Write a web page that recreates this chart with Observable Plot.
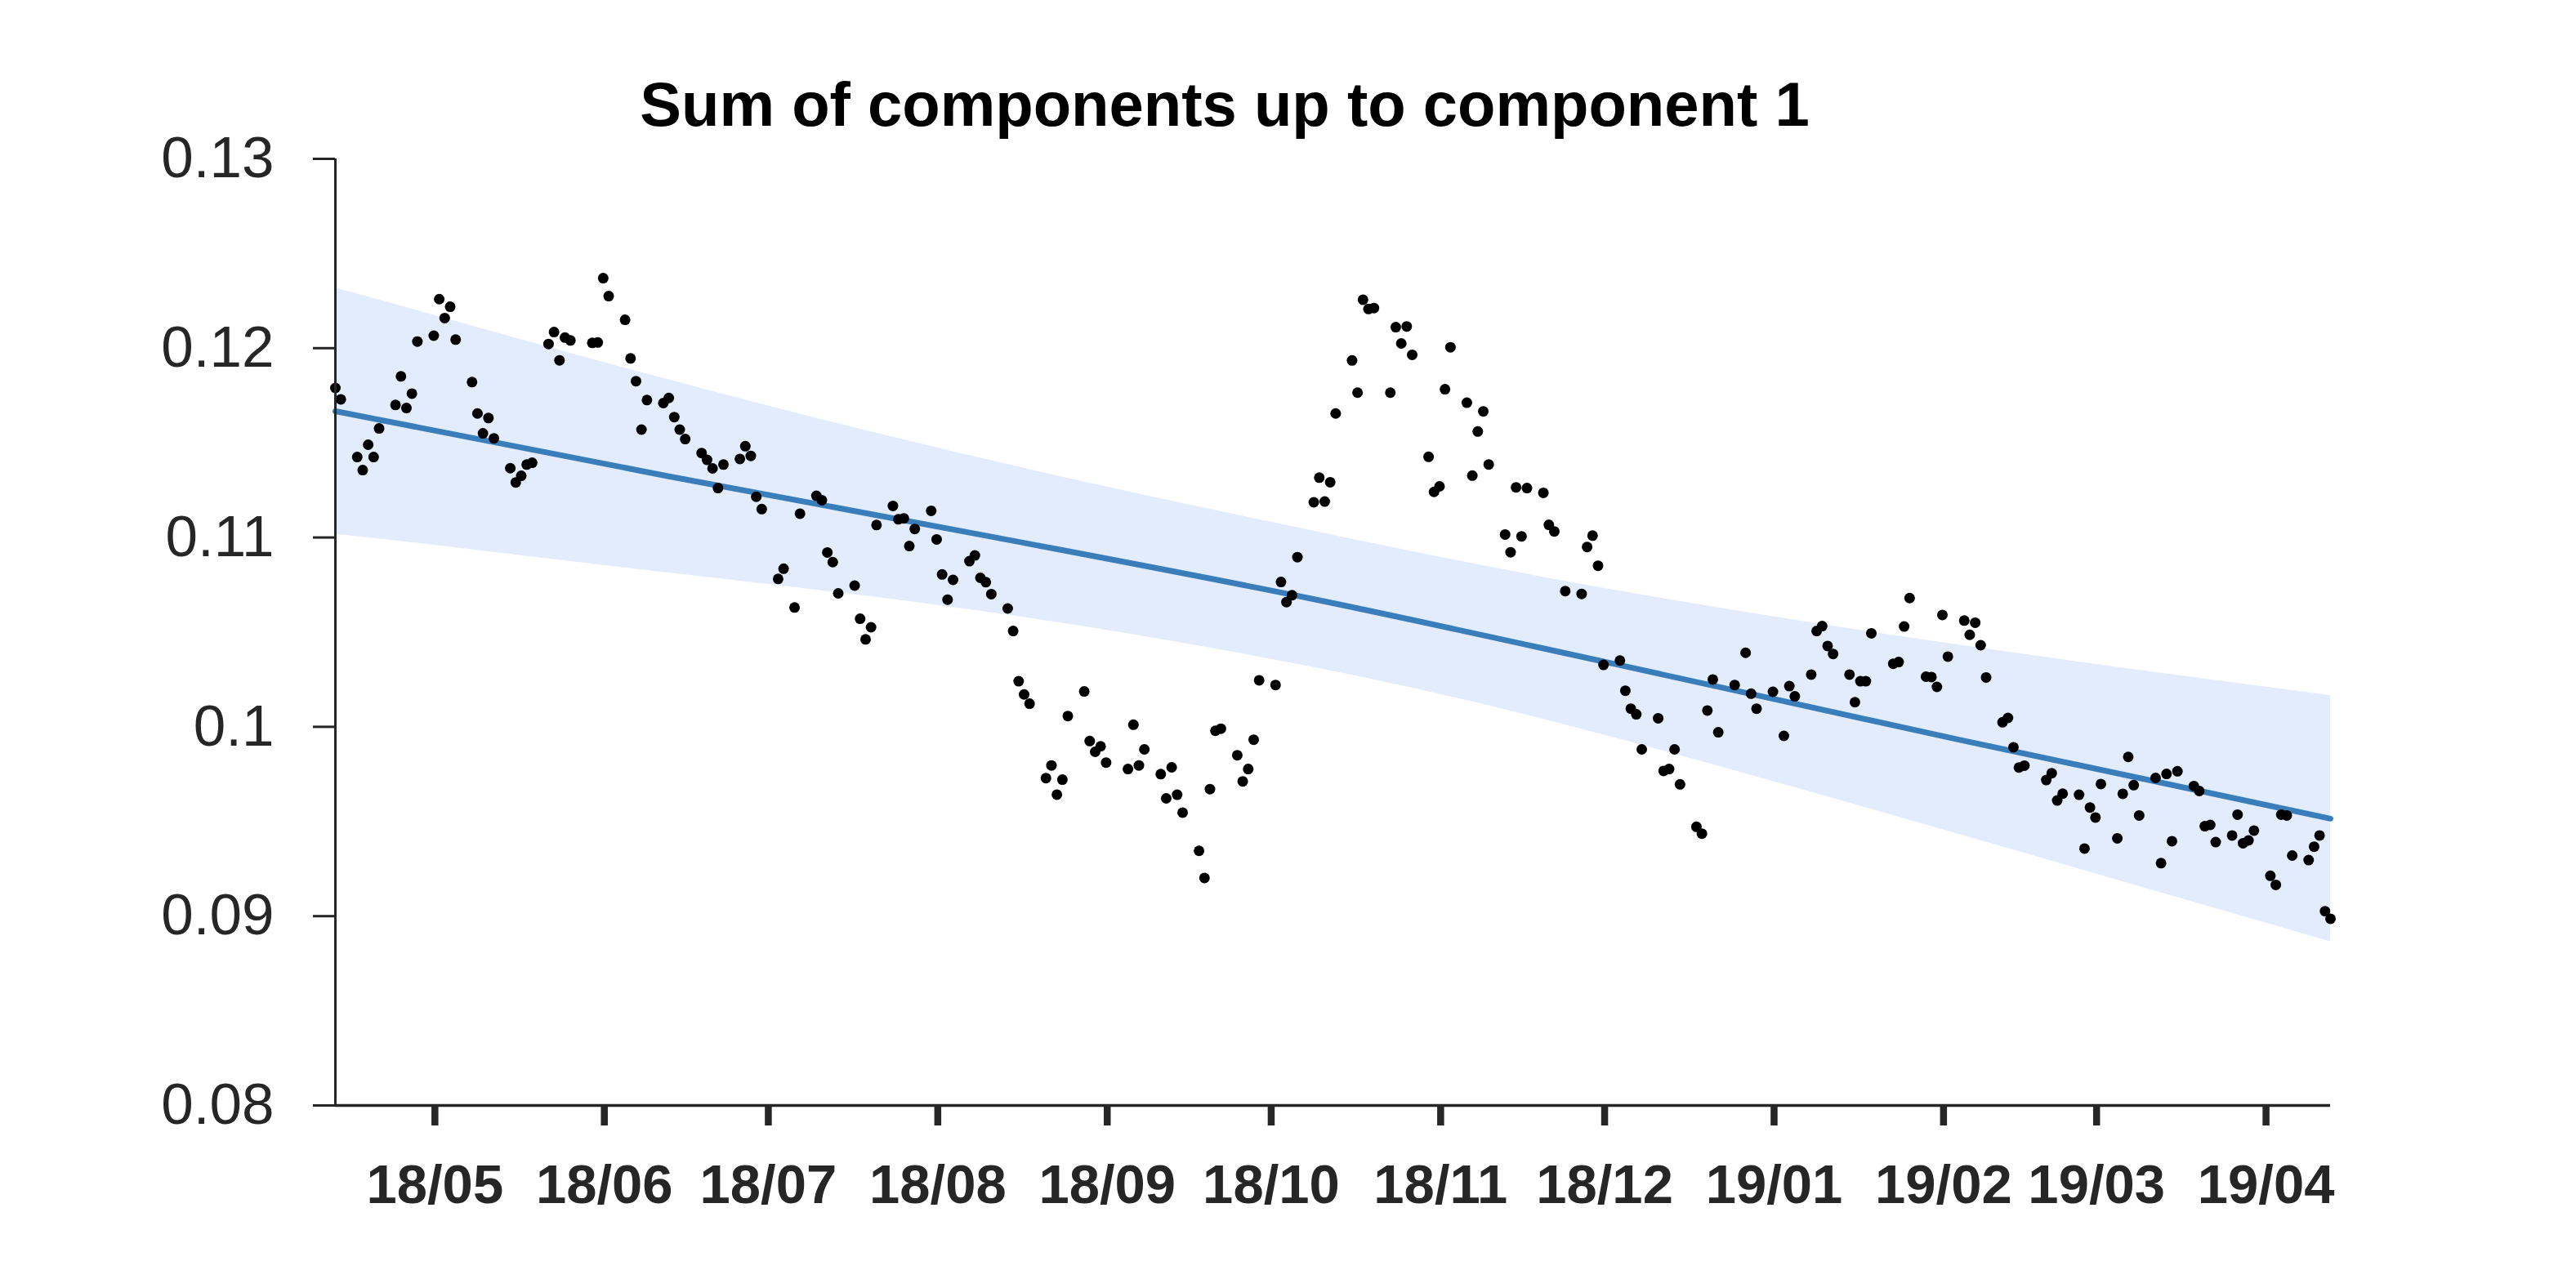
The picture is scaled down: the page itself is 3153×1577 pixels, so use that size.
<!DOCTYPE html>
<html>
<head>
<meta charset="utf-8">
<script src="https://cdn.jsdelivr.net/npm/d3@7"></script>
<script src="https://cdn.jsdelivr.net/npm/@observablehq/plot@0.6"></script>
<style>
  html, body { margin: 0; padding: 0; background: #ffffff; }
  #wrap { position: relative; width: 3153px; height: 1577px; overflow: hidden; background: #ffffff; }
  #title { position: absolute; left: 0; top: 90px; width: 2998px; text-align: center;
           font: bold 76px "Liberation Sans", Arial, Helvetica, sans-serif; line-height: 76px; color: #000; }
  #chart { position: absolute; left: 0; top: 0; }
  #chart svg { overflow: visible; }
  g[aria-label="x-axis tick label"] text { font-weight: bold; }
</style>
</head>
<body>
<div id="wrap">
  <div id="chart"></div>
  <div id="title">Sum of components up to component 1</div>
</div>
<script>
// ---- observations (trading days) ----
const dates = [
  "2018-04-11","2018-04-12",
  "2018-04-15","2018-04-16","2018-04-17","2018-04-18","2018-04-19",
  "2018-04-22","2018-04-23","2018-04-24","2018-04-25","2018-04-26",
  "2018-04-29","2018-04-30","2018-05-01","2018-05-02","2018-05-03",
  "2018-05-06","2018-05-07","2018-05-08","2018-05-09","2018-05-10",
  "2018-05-13","2018-05-14","2018-05-15","2018-05-16","2018-05-17",
  "2018-05-20","2018-05-21","2018-05-22","2018-05-23","2018-05-24",
  "2018-05-28","2018-05-29","2018-05-30","2018-05-31",
  "2018-06-03","2018-06-04","2018-06-05","2018-06-06","2018-06-07",
  "2018-06-10","2018-06-11","2018-06-12","2018-06-13","2018-06-14",
  "2018-06-17","2018-06-18","2018-06-19","2018-06-20","2018-06-21",
  "2018-06-24","2018-06-25","2018-06-26","2018-06-27","2018-06-28",
  "2018-07-01","2018-07-02","2018-07-04","2018-07-05",
  "2018-07-08","2018-07-09","2018-07-10","2018-07-11","2018-07-12",
  "2018-07-15","2018-07-16","2018-07-17","2018-07-18","2018-07-19",
  "2018-07-22","2018-07-23","2018-07-24","2018-07-25","2018-07-26",
  "2018-07-29","2018-07-30","2018-07-31","2018-08-01","2018-08-02",
  "2018-08-05","2018-08-06","2018-08-07","2018-08-08","2018-08-09",
  "2018-08-12","2018-08-13","2018-08-14","2018-08-15","2018-08-16",
  "2018-08-19","2018-08-20","2018-08-21","2018-08-22","2018-08-23",
  "2018-08-26","2018-08-27","2018-08-28","2018-08-29","2018-08-30",
  "2018-09-03","2018-09-04","2018-09-05","2018-09-06",
  "2018-09-09","2018-09-10","2018-09-11","2018-09-12","2018-09-13",
  "2018-09-16","2018-09-17","2018-09-18","2018-09-19","2018-09-20",
  "2018-09-23","2018-09-24","2018-09-25","2018-09-26","2018-09-27",
  "2018-09-30","2018-10-01","2018-10-02","2018-10-03","2018-10-04",
  "2018-10-07","2018-10-08","2018-10-09","2018-10-10","2018-10-11",
  "2018-10-14","2018-10-15","2018-10-16","2018-10-17","2018-10-18",
  "2018-10-21","2018-10-22","2018-10-23","2018-10-24","2018-10-25",
  "2018-10-28","2018-10-29","2018-10-30","2018-10-31","2018-11-01",
  "2018-11-04","2018-11-05","2018-11-06","2018-11-07","2018-11-08",
  "2018-11-11","2018-11-12","2018-11-13","2018-11-14","2018-11-15",
  "2018-11-18","2018-11-19","2018-11-20","2018-11-22",
  "2018-11-25","2018-11-26","2018-11-27","2018-11-28","2018-11-29",
  "2018-12-02","2018-12-03","2018-12-04","2018-12-05","2018-12-06",
  "2018-12-09","2018-12-10","2018-12-11","2018-12-12","2018-12-13",
  "2018-12-16","2018-12-17","2018-12-18","2018-12-19","2018-12-20",
  "2018-12-23","2018-12-25","2018-12-26","2018-12-27",
  "2018-12-30","2019-01-01","2019-01-02","2019-01-03",
  "2019-01-06","2019-01-07","2019-01-08","2019-01-09","2019-01-10",
  "2019-01-13","2019-01-14","2019-01-15","2019-01-16","2019-01-17",
  "2019-01-21","2019-01-22","2019-01-23","2019-01-24",
  "2019-01-27","2019-01-28","2019-01-29","2019-01-30","2019-01-31",
  "2019-02-03","2019-02-04","2019-02-05","2019-02-06","2019-02-07",
  "2019-02-10","2019-02-11","2019-02-12","2019-02-13","2019-02-14",
  "2019-02-18","2019-02-19","2019-02-20","2019-02-21",
  "2019-02-24","2019-02-25","2019-02-26","2019-02-27","2019-02-28",
  "2019-03-03","2019-03-04","2019-03-05","2019-03-06","2019-03-07",
  "2019-03-10","2019-03-11","2019-03-12","2019-03-13","2019-03-14",
  "2019-03-17","2019-03-18","2019-03-19","2019-03-20","2019-03-21",
  "2019-03-24","2019-03-25","2019-03-26","2019-03-27","2019-03-28",
  "2019-03-31","2019-04-01","2019-04-02","2019-04-03","2019-04-04",
  "2019-04-07","2019-04-08","2019-04-09","2019-04-10","2019-04-11"
];
const values = [
  0.11790, 0.11730,
  0.11425, 0.11356, 0.11490, 0.11425, 0.11576,
  0.11700, 0.11851, 0.11684, 0.11760, 0.12035,
  0.12066, 0.12259, 0.12159, 0.12219, 0.12045,
  0.11821, 0.11655, 0.11550, 0.11631, 0.11524,
  0.11366, 0.11291, 0.11326, 0.11385, 0.11395,
  0.12022, 0.12085, 0.11936, 0.12056, 0.12041,
  0.12028, 0.12030, 0.12370, 0.12275,
  0.12150, 0.11946, 0.11826, 0.11570, 0.11726,
  0.11710, 0.11737, 0.11636, 0.11570, 0.11520,
  0.11446, 0.11410, 0.11365, 0.11261, 0.11385,
  0.11415, 0.11482, 0.11431, 0.11215, 0.11150,
  0.10781, 0.10835, 0.10630, 0.11126,
  0.11220, 0.11197, 0.10921, 0.10870, 0.10705,
  0.10746, 0.10571, 0.10462, 0.10526, 0.11066,
  0.11167, 0.11096, 0.11101, 0.10955, 0.11045,
  0.11141, 0.10990, 0.10805, 0.10672, 0.10776,
  0.10875, 0.10905, 0.10787, 0.10764, 0.10701,
  0.10625, 0.10506, 0.10241, 0.10171, 0.10122,
  0.09729, 0.09796, 0.09642, 0.09721, 0.10057,
  0.10187, 0.09925, 0.09868, 0.09897, 0.09811,
  0.09777, 0.10011, 0.09796, 0.09881,
  0.09750, 0.09622, 0.09786, 0.09641, 0.09547,
  0.09345, 0.09202, 0.09671, 0.09979, 0.09990,
  0.09850, 0.09712, 0.09777, 0.09932, 0.10246,
  0.10221, 0.10765, 0.10659, 0.10695, 0.10896,
  0.11186, 0.11316, 0.11190, 0.11292, 0.11655,
  0.11935, 0.11765, 0.12256, 0.12207, 0.12212,
  0.11765, 0.12111, 0.12025, 0.12115, 0.11965,
  0.11426, 0.11241, 0.11270, 0.11783, 0.12005,
  0.11712, 0.11327, 0.11560, 0.11666, 0.11386,
  0.11016, 0.10922, 0.11265, 0.11006, 0.11261,
  0.11236, 0.11067, 0.11032, 0.10717,
  0.10702, 0.10950, 0.11010, 0.10851, 0.10327,
  0.10350, 0.10191, 0.10096, 0.10066, 0.09881,
  0.10045, 0.09767, 0.09777, 0.09881, 0.09696,
  0.09472, 0.09436, 0.10086, 0.10250, 0.09971,
  0.10221, 0.10391, 0.10175, 0.10096,
  0.10185, 0.09952, 0.10215, 0.10161,
  0.10276, 0.10506, 0.10532, 0.10427, 0.10385,
  0.10276, 0.10130, 0.10241, 0.10241, 0.10494,
  0.10333, 0.10342, 0.10530, 0.10680,
  0.10265, 0.10263, 0.10211, 0.10591, 0.10371,
  0.10561, 0.10486, 0.10550, 0.10431, 0.10261,
  0.10024, 0.10047, 0.09892, 0.09785, 0.09795,
  0.09719, 0.09755, 0.09611, 0.09647,
  0.09641, 0.09357, 0.09574, 0.09521, 0.09698,
  0.09411, 0.09646, 0.09841, 0.09692, 0.09532,
  0.09730, 0.09280, 0.09751, 0.09396, 0.09765,
  0.09687, 0.09661, 0.09475, 0.09482, 0.09391,
  0.09426, 0.09536, 0.09385, 0.09400, 0.09452,
  0.09213, 0.09165, 0.09536, 0.09532, 0.09320,
  0.09296, 0.09367, 0.09426, 0.09026, 0.08986
];

// ---- fitted trend ----
const trendDates  = ["2018-04-11","2018-06-11","2018-08-10","2018-10-06","2018-12-01","2019-02-02","2019-04-11"];
const trendValues = [0.11667, 0.11323, 0.10999, 0.10680, 0.10332, 0.09932, 0.09515];

// ---- uncertainty band ----
const bandDates = ["2018-04-11","2018-04-28","2018-06-11","2018-08-10","2018-10-10","2018-12-01","2019-02-02","2019-04-11"];
const bandUpper = [0.12317, 0.12183, 0.11833, 0.11399, 0.11016, 0.10722, 0.10432, 0.10165];
const bandLower = [0.11017, 0.10963, 0.10813, 0.10599, 0.10296, 0.09942, 0.09432, 0.08865];

// ---- axes ----
const xDomain = ["2018-04-11", "2019-04-11"];
const xTicks = ["2018-05-01","2018-06-01","2018-07-01","2018-08-01","2018-09-01","2018-10-01",
                "2018-11-01","2018-12-01","2019-01-01","2019-02-01","2019-03-01","2019-04-01"];
const xTickLabels = ["18/05","18/06","18/07","18/08","18/09","18/10","18/11","18/12","19/01","19/02","19/03","19/04"];
const yDomain = [0.08, 0.13];
const yTicks = [0.08, 0.09, 0.10, 0.11, 0.12, 0.13];
const yTickLabels = ["0.08","0.09","0.1","0.11","0.12","0.13"];

if (dates.length !== values.length) console.error("length mismatch", dates.length, values.length);

const parse = s => new Date(s + "T00:00:00Z");
const points = dates.map((d, i) => ({date: parse(d), value: values[i]}));
const trend = trendDates.map((d, i) => ({date: parse(d), value: trendValues[i]}));
const band = bandDates.map((d, i) => ({date: parse(d), lo: bandLower[i], hi: bandUpper[i]}));
const xTickDates = xTicks.map(parse);
const xLabelOf = d => { const i = xTickDates.findIndex(t => +t === +d); return i >= 0 ? xTickLabels[i] : ""; };
const yLabelOf = v => { const i = yTicks.findIndex(t => Math.abs(t - v) < 1e-9); return i >= 0 ? yTickLabels[i] : ""; };

const axisColor = "#262626";

const chart = Plot.plot({
  width: 3153,
  height: 1577,
  marginLeft: 410,
  marginRight: 301,
  marginTop: 194,
  marginBottom: 224,
  style: {fontFamily: "'Liberation Sans', Arial, Helvetica, sans-serif", background: "#ffffff", color: axisColor},
  x: {type: "utc", domain: xDomain.map(parse)},
  y: {domain: yDomain},
  marks: [
    Plot.areaY(band, {x: "date", y1: "lo", y2: "hi", curve: "natural", fill: "#e3ecfc"}),
    Plot.line(trend, {x: "date", y: "value", curve: "monotone-x", stroke: "#3a7dbb", strokeWidth: 7}),
    Plot.dot(points, {x: "date", y: "value", r: 6.5, fill: "#000000", stroke: "none"}),
    Plot.ruleX([parse(xDomain[0])], {stroke: axisColor, strokeWidth: 3}),
    Plot.ruleY([yDomain[0]], {stroke: axisColor, strokeWidth: 3.7}),
    Plot.axisY({ticks: yTicks, tickFormat: yLabelOf, tickSize: 27, tickPadding: 48,
                fontSize: 71, strokeWidth: 3, stroke: axisColor, fill: axisColor, label: null}),
    Plot.axisX({ticks: xTickDates, tickFormat: xLabelOf, tickSize: 25, tickPadding: 47,
                fontSize: 67, fontWeight: "bold", strokeWidth: 8.5, stroke: axisColor, fill: axisColor,
                dx: -12, label: null})
  ]
});
document.getElementById("chart").appendChild(chart);
</script>
</body>
</html>
